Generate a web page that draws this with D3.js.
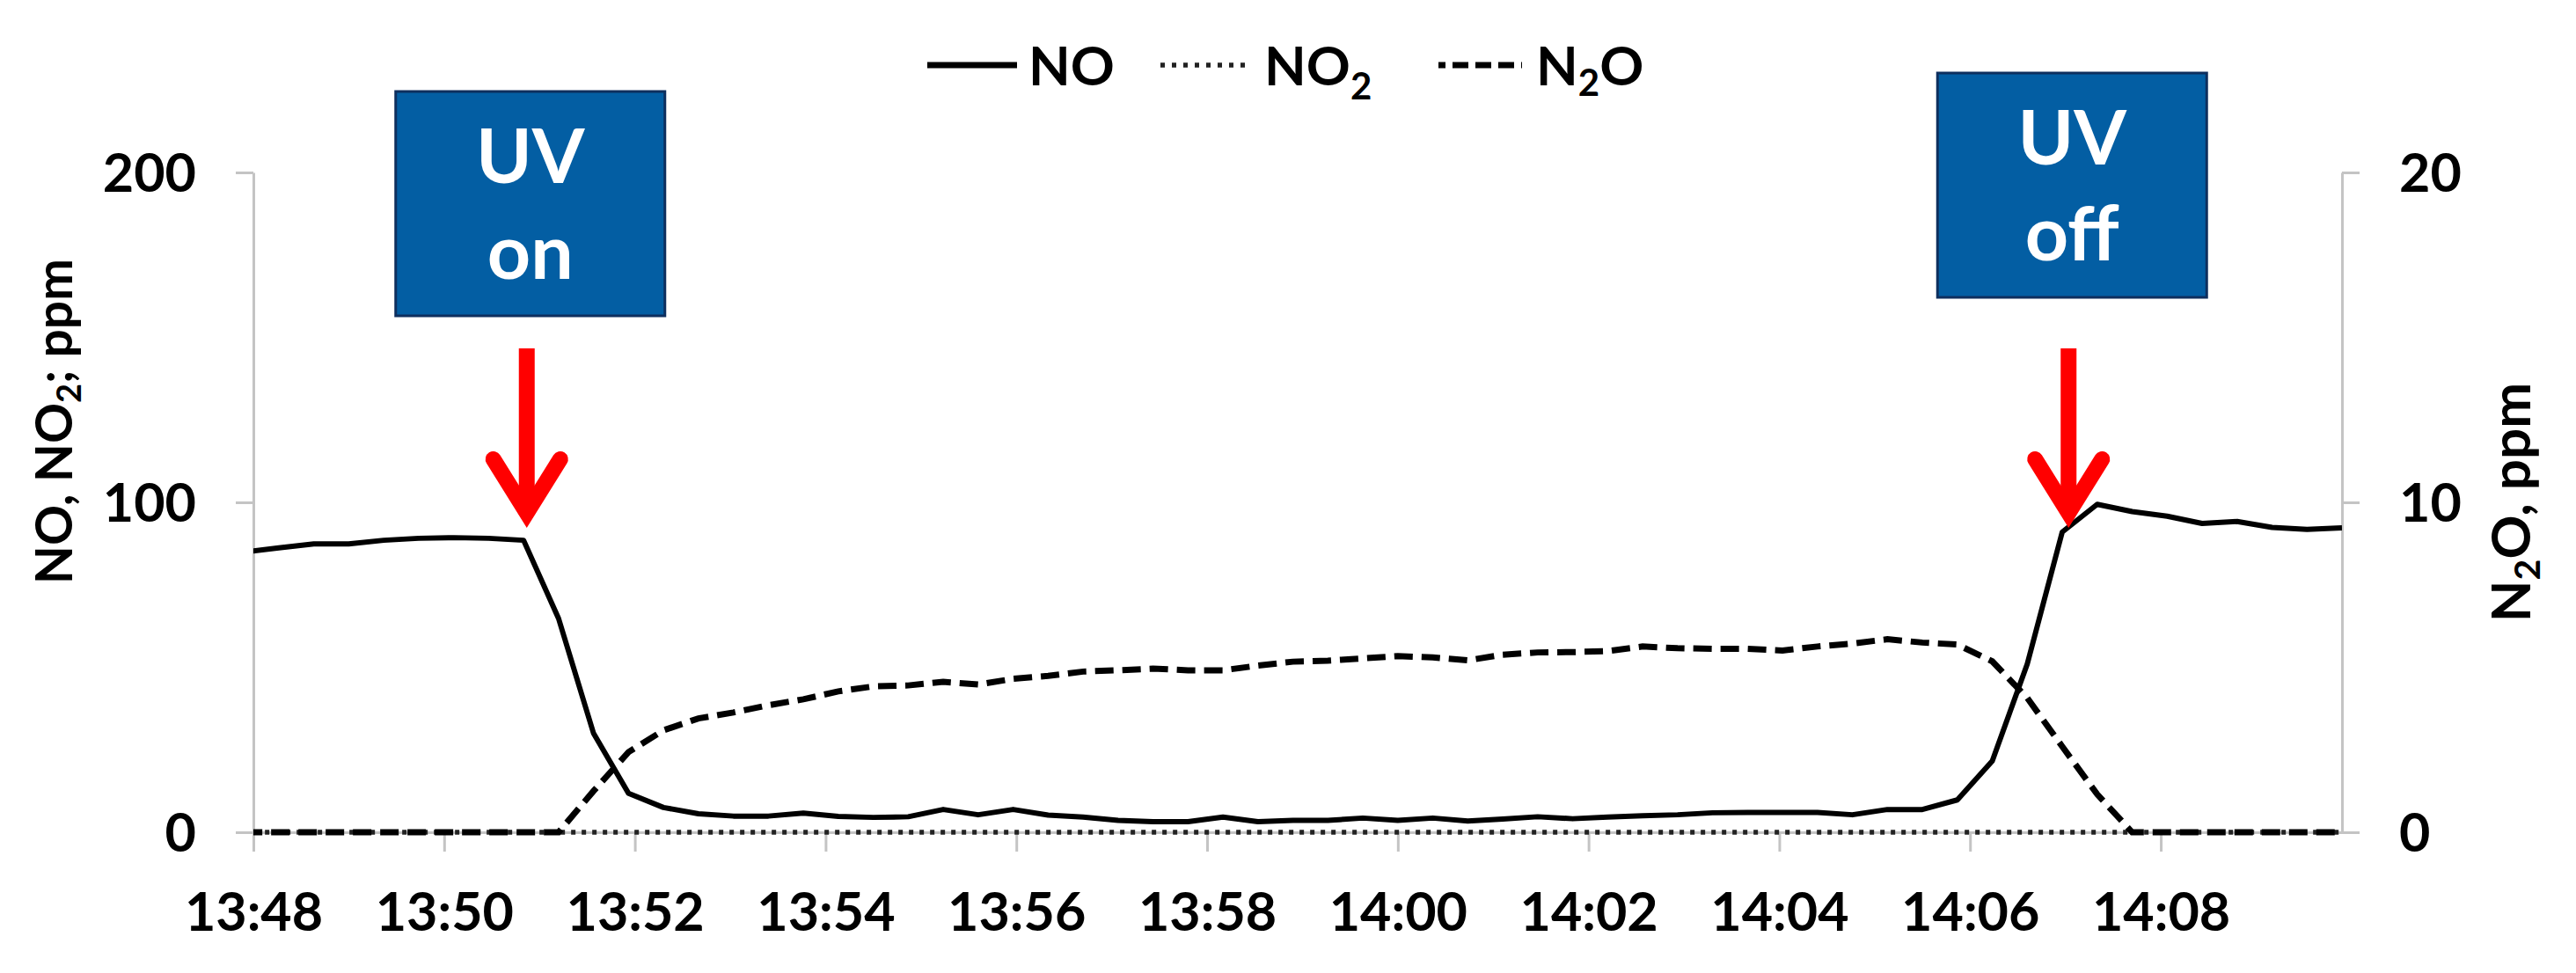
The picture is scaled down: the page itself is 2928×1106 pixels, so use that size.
<!DOCTYPE html>
<html><head><meta charset="utf-8">
<script src="https://cdn.jsdelivr.net/npm/d3@7"></script>
<style>body{margin:0;background:#fff} svg{display:block}</style>
</head><body><svg id="c" width="2928" height="1106"></svg>
<script>
// ---- data ----
const times = ["13:47:54","13:48:16","13:48:38","13:49:00","13:49:22","13:49:44","13:50:06","13:50:28","13:50:50","13:51:12",
"13:51:34","13:51:56","13:52:18","13:52:40","13:53:02","13:53:24","13:53:46","13:54:08","13:54:30","13:54:52",
"13:55:14","13:55:36","13:55:58","13:56:20","13:56:42","13:57:04","13:57:26","13:57:48","13:58:10","13:58:32",
"13:58:54","13:59:16","13:59:38","14:00:00","14:00:22","14:00:44","14:01:06","14:01:28","14:01:50","14:02:12",
"14:02:34","14:02:56","14:03:18","14:03:40","14:04:02","14:04:24","14:04:46","14:05:08","14:05:30","14:05:52",
"14:06:14","14:06:36","14:06:58","14:07:20","14:07:42","14:08:04","14:08:26","14:08:48","14:09:10","14:09:32","14:09:54"];
const noValues = [84.9,86.2,87.4,87.4,88.5,89.1,89.3,89.1,88.5,64.8,
30.0,11.8,7.5,5.6,4.9,4.9,5.8,4.8,4.5,4.7,
6.9,5.3,6.9,5.2,4.6,3.6,3.2,3.2,4.6,3.2,
3.6,3.6,4.3,3.6,4.3,3.4,4.0,4.7,4.1,4.6,
5.0,5.3,5.9,6.0,6.0,6.0,5.3,6.9,6.9,9.8,
21.6,51.0,91.0,99.4,97.2,95.8,93.6,94.2,92.4,91.8,92.3];
const no2Values = [0,0,0,0,0,0,0,0,0,0, 0,0,0,0,0,0,0,0,0,0, 0,0,0,0,0,0,0,0,0,0,
0,0,0,0,0,0,0,0,0,0, 0,0,0,0,0,0,0,0,0,0, 0,0,0,0,0,0,0,0,0,0,0];
const n2oValues = [0,0,0,0,0,0,0,0,0,0,
1.25,2.43,3.09,3.45,3.63,3.85,4.03,4.27,4.42,4.45,
4.56,4.48,4.65,4.74,4.87,4.91,4.96,4.91,4.91,5.05,
5.17,5.20,5.27,5.34,5.30,5.21,5.38,5.45,5.46,5.49,
5.63,5.58,5.56,5.56,5.51,5.63,5.72,5.85,5.75,5.69,
5.18,4.07,2.60,1.15,0,0,0,0,0,0,0];
const xTickLabels = ["13:48","13:50","13:52","13:54","13:56","13:58","14:00","14:02","14:04","14:06","14:08"];
const xDomain = ["13:48:00","14:09:54"];
const leftTicks = [0,100,200];
const rightTicks = [0,10,20];
const annotations = [
  {lines:["UV","on"],  time:"13:50:52", value:92, boxTop:104},
  {lines:["UV","off"], time:"14:07:02", value:92, boxTop:83}
];

// ---- layout ----
const L = 288, R = 2662, T = 196, B = 946;
const parse = d3.timeParse("%H:%M:%S");
const pm = d3.timeParse("%H:%M");
const svg = d3.select("#c");

const x = d3.scaleTime().domain(xDomain.map(parse)).range([L, R]);
const yL = d3.scaleLinear().domain([0,200]).range([B, T]);
const yR = d3.scaleLinear().domain([0,20]).range([B, T]);

const axisColor = "#c4c4c4";
const tickFont = "Lato, 'Open Sans', sans-serif";

// x axis
const gx = svg.append("g").attr("transform", `translate(0,${B})`)
  .call(d3.axisBottom(x).tickValues(xTickLabels.map(pm)).tickFormat(d3.timeFormat("%H:%M")).tickSize(22).tickSizeOuter(0));
gx.select(".domain").attr("stroke", axisColor).attr("stroke-width", 3);
gx.selectAll(".tick line").attr("stroke", axisColor).attr("stroke-width", 3);
gx.selectAll(".tick text").attr("y", 112).attr("dy", null)
  .attr("font-family", tickFont).attr("font-weight", 700).attr("font-size", 61).attr("fill", "#000");

// left axis
const gl = svg.append("g").attr("transform", `translate(${L},0)`)
  .call(d3.axisLeft(yL).tickValues(leftTicks).tickSize(20).tickPadding(45).tickSizeOuter(0));
gl.select(".domain").attr("stroke", axisColor).attr("stroke-width", 3);
gl.selectAll(".tick line").attr("stroke", axisColor).attr("stroke-width", 3);
gl.selectAll(".tick text").attr("dy", "0.36em")
  .attr("font-family", tickFont).attr("font-weight", 700).attr("font-size", 61).attr("fill", "#000");

// right axis
const gr = svg.append("g").attr("transform", `translate(${R},0)`)
  .call(d3.axisRight(yR).tickValues(rightTicks).tickSize(20).tickPadding(45).tickSizeOuter(0));
gr.select(".domain").attr("stroke", axisColor).attr("stroke-width", 3);
gr.selectAll(".tick line").attr("stroke", axisColor).attr("stroke-width", 3);
gr.selectAll(".tick text").attr("dy", "0.36em")
  .attr("font-family", tickFont).attr("font-weight", 700).attr("font-size", 61).attr("fill", "#000");

// axis titles
const lt = svg.append("text").attr("transform", "translate(82,479) rotate(-90)")
  .attr("text-anchor", "middle").attr("font-family", tickFont).attr("font-weight", 700)
  .attr("font-size", 57).attr("fill", "#000");
lt.append("tspan").text("NO, NO");
lt.append("tspan").text("2").attr("font-size", 38).attr("dy", 10);
lt.append("tspan").text("; ppm").attr("dy", -10);

const rt = svg.append("text").attr("transform", "translate(2876,571) rotate(-90)")
  .attr("text-anchor", "middle").attr("font-family", tickFont).attr("font-weight", 700)
  .attr("font-size", 62).attr("fill", "#000");
rt.append("tspan").text("N");
rt.append("tspan").text("2").attr("font-size", 41).attr("dy", 11);
rt.append("tspan").text("O, ppm").attr("dy", -11);

// series
svg.append("defs").append("clipPath").attr("id", "plot")
  .append("rect").attr("x", L).attr("y", 0).attr("width", R - L).attr("height", 1106);
const tParsed = times.map(parse);
const lineL = d3.line().x((d,i) => x(tParsed[i])).y(d => yL(d));
const lineR = d3.line().x((d,i) => x(tParsed[i])).y(d => yR(d));
const plot = svg.append("g").attr("clip-path", "url(#plot)");
plot.append("path").datum(no2Values).attr("d", lineL).attr("fill", "none")
  .attr("stroke", "#222").attr("stroke-width", 5.5).attr("stroke-dasharray", "5,7");
plot.append("path").datum(n2oValues).attr("d", lineR).attr("fill", "none")
  .attr("stroke", "#000").attr("stroke-width", 7).attr("stroke-dasharray", "21,10");
plot.append("path").datum(noValues).attr("d", lineL).attr("fill", "none")
  .attr("stroke", "#000").attr("stroke-width", 6).attr("stroke-linejoin", "round");

// annotations: boxes + red arrows
annotations.forEach(a => {
  const ax = x(parse(a.time));
  const tipY = yL(a.value);
  const bw = 306, bh = 255, bx = ax + 4 - bw/2;
  svg.append("rect").attr("x", bx).attr("y", a.boxTop).attr("width", bw).attr("height", bh)
    .attr("fill", "#035ea3").attr("stroke", "#0e2f5e").attr("stroke-width", 3);
  a.lines.forEach((s, j) => {
    svg.append("text").attr("x", ax + 4).attr("y", a.boxTop + 104 + j*109)
      .attr("text-anchor", "middle").attr("font-family", tickFont).attr("font-weight", 700)
      .attr("font-size", 86).attr("fill", "#fff").text(s);
  });
  svg.append("line").attr("x1", ax).attr("x2", ax).attr("y1", 396).attr("y2", tipY - 16)
    .attr("stroke", "#ff0000").attr("stroke-width", 18);
  svg.append("path")
    .attr("d", `M${ax-38},${tipY-79} L${ax},${tipY-18} L${ax+38},${tipY-79}`)
    .attr("fill", "none").attr("stroke", "#ff0000").attr("stroke-width", 18)
    .attr("stroke-linecap", "round").attr("stroke-linejoin", "miter");
});

// legend
const lg = svg.append("g").attr("font-family", tickFont).attr("font-weight", 700)
  .attr("font-size", 62).attr("fill", "#000");
lg.append("line").attr("x1", 1054).attr("x2", 1156).attr("y1", 74).attr("y2", 74)
  .attr("stroke", "#000").attr("stroke-width", 7);
lg.append("text").attr("x", 1169).attr("y", 97).text("NO");
lg.append("line").attr("x1", 1319).attr("x2", 1418).attr("y1", 74).attr("y2", 74)
  .attr("stroke", "#222").attr("stroke-width", 5.5).attr("stroke-dasharray", "5,8");
const t2 = lg.append("text").attr("x", 1437).attr("y", 97);
t2.append("tspan").text("NO");
t2.append("tspan").text("2").attr("font-size", 42).attr("dy", 16);
lg.append("line").attr("x1", 1635).attr("x2", 1730).attr("y1", 74).attr("y2", 74)
  .attr("stroke", "#000").attr("stroke-width", 7).attr("stroke-dasharray", "8,8,18,8,18,8,18,8");
const t3 = lg.append("text").attr("x", 1746).attr("y", 97);
t3.append("tspan").text("N");
t3.append("tspan").text("2").attr("font-size", 42).attr("dy", 12);
t3.append("tspan").text("O").attr("dy", -12);
</script></body></html>
